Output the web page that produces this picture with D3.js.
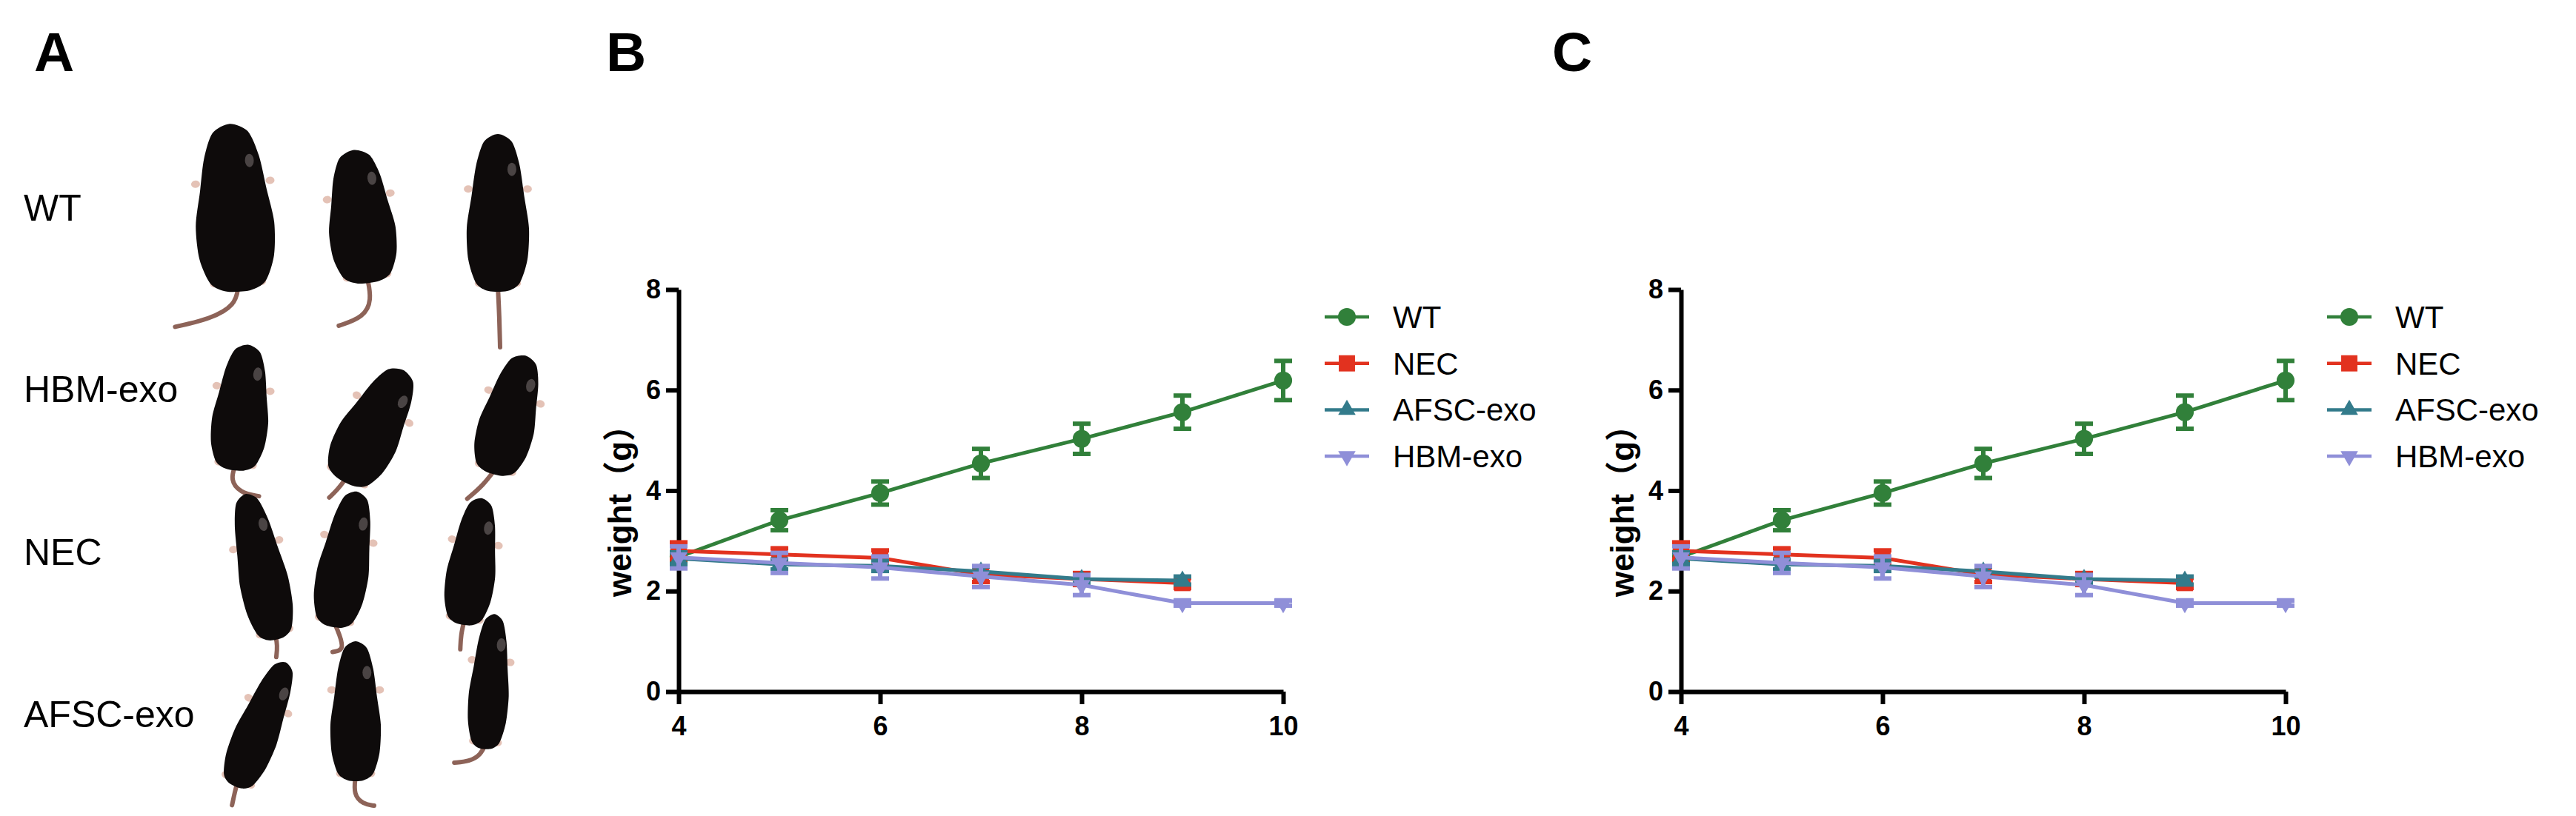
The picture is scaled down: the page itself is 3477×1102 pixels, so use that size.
<!DOCTYPE html>
<html>
<head>
<meta charset="utf-8">
<script src="https://cdn.jsdelivr.net/npm/d3@7"></script>
<style>
  html, body { margin: 0; padding: 0; background: #fff; }
  svg { display: block; }
</style>
</head>
<body>
<div id="figure"></div>
<script>
// ---- data ----
const weeks = [4, 5, 6, 7, 8, 9, 10];
const groupNames = ['WT', 'NEC', 'AFSC-exo', 'HBM-exo'];
const wtMean = [2.68, 3.41, 3.95, 4.54, 5.03, 5.56, 6.19];
const wtErr = [0.10, 0.20, 0.23, 0.29, 0.30, 0.33, 0.39];
const necMean = [2.80, 2.73, 2.66, 2.33, 2.24, 2.16];
const necErr = [0.17, 0.12, 0.15, 0.15, 0.12, 0.10];
const afscMean = [2.65, 2.53, 2.50, 2.39, 2.24, 2.21];
const afscErr = [0.12, 0.10, 0.10, 0.10, 0.08, 0.08];
const hbmMean = [2.67, 2.56, 2.47, 2.29, 2.12, 1.76, 1.76];
const hbmErr = [0.22, 0.20, 0.22, 0.21, 0.20, 0.05, 0.05];
const yTicks = [0, 2, 4, 6, 8];
const xTicks = [4, 6, 8, 10];
const photoRows = ['WT', 'HBM-exo', 'NEC', 'AFSC-exo'];

const W = 3477, H = 1102;
const FONT = '"Liberation Sans", Arial, "Noto Sans CJK SC", sans-serif';

const series = [
    { name: groupNames[0], mean: wtMean, err: wtErr, color: '#31803a', symbol: d3.symbolCircle, size: 460, rot: 0 },
    { name: groupNames[1], mean: necMean, err: necErr, color: '#e2321f', symbol: d3.symbolSquare, size: 480, rot: 0 },
    { name: groupNames[2], mean: afscMean, err: afscErr, color: '#337b8b', symbol: d3.symbolTriangle, size: 240, rot: 0 },
    { name: groupNames[3], mean: hbmMean, err: hbmErr, color: '#8f8fd8', symbol: d3.symbolTriangle, size: 240, rot: 180 }
];

const svg = d3.select('#figure')
    .append('svg')
    .attr('width', W)
    .attr('height', H)
    .style('font-family', FONT);

// ---- panel letters ----
svg.append('text').attr('x', 46).attr('y', 96).text('A')
    .style('font-size', '75px').style('font-weight', 'bold');
svg.append('text').attr('x', 818).attr('y', 96).text('B')
    .style('font-size', '75px').style('font-weight', 'bold');
svg.append('text').attr('x', 2095).attr('y', 96).text('C')
    .style('font-size', '75px').style('font-weight', 'bold');

// ---- panel A: row labels + stylised mice ----
const rowBaselines = [298, 543, 763, 982];
svg.append('g').selectAll('text')
    .data(photoRows)
    .enter()
    .append('text')
    .attr('x', 32)
    .attr('y', (d, i) => rowBaselines[i])
    .text(d => d)
    .style('font-size', '50px');

// cx, cy = body centre, len/wid = body size, rot = heading (deg), tail = local points from rump
const mice = [
    { cx: 316, cy: 280, len: 226, wid: 106, rot: -3, tail: [[0, 0], [-5, 25], [-40, 42], [-88, 50]] },
    { cx: 487, cy: 292, len: 180, wid: 90, rot: -6, tail: [[0, 0], [3, 30], [-10, 52], [-45, 60]] },
    { cx: 672, cy: 287, len: 212, wid: 84, rot: 0, tail: [[0, 0], [2, 40], [3, 82]] },
    { cx: 326, cy: 550, len: 170, wid: 76, rot: 6, tail: [[0, 0], [-5, 20], [10, 36], [36, 38]] },
    { cx: 505, cy: 575, len: 170, wid: 84, rot: 28, tail: [[0, 0], [-3, 20], [-8, 35]] },
    { cx: 688, cy: 560, len: 165, wid: 76, rot: 15, tail: [[0, 0], [-10, 25], [-26, 48]] },
    { cx: 352, cy: 765, len: 200, wid: 66, rot: -12, tail: [[0, 0], [0, 15], [-5, 30]] },
    { cx: 466, cy: 755, len: 185, wid: 70, rot: 10, tail: [[0, 0], [10, 15], [20, 35], [5, 40]] },
    { cx: 638, cy: 758, len: 172, wid: 66, rot: 8, tail: [[0, 0], [-2, 20], [0, 40]] },
    { cx: 352, cy: 978, len: 180, wid: 60, rot: 22, tail: [[0, 0], [2, 15], [5, 32]] },
    { cx: 480, cy: 960, len: 188, wid: 68, rot: 0, tail: [[0, 0], [-3, 25], [10, 38], [25, 40]] },
    { cx: 661, cy: 920, len: 182, wid: 54, rot: 4, tail: [[0, 0], [-5, 15], [-20, 25], [-40, 28]] }
];

// unit outline of a mouse seen from above, head at top
const outline = [[0, -1], [0.45, -0.9], [0.7, -0.6], [0.85, -0.2], [1, 0.2], [0.95, 0.6], [0.7, 0.9], [0.3, 1],
    [-0.3, 1], [-0.7, 0.9], [-0.95, 0.6], [-1, 0.2], [-0.85, -0.2], [-0.7, -0.6], [-0.45, -0.9]];
const bodyLine = d3.line().curve(d3.curveCardinalClosed.tension(0.2));
const tailLine = d3.line().curve(d3.curveBasis);

const mouseG = svg.append('g');
mice.forEach(m => {
    const g = mouseG.append('g')
        .attr('transform', `translate(${m.cx},${m.cy}) rotate(${m.rot})`);
    const hw = m.wid / 2, hl = m.len / 2;
    // tail
    g.append('path')
        .attr('d', tailLine(m.tail.map(p => [p[0], p[1] + hl - 6])))
        .attr('fill', 'none')
        .attr('stroke', '#8d6358')
        .attr('stroke-width', 6)
        .attr('stroke-linecap', 'round');
    // paws
    [[-0.95, -0.3], [0.95, -0.3], [-0.6, 0.9], [0.6, 0.9]].forEach(p => {
        g.append('ellipse')
            .attr('cx', p[0] * hw)
            .attr('cy', p[1] * hl)
            .attr('rx', 6).attr('ry', 5)
            .attr('fill', '#e4c2b6');
    });
    // body
    g.append('path')
        .attr('d', bodyLine(outline.map(p => [p[0] * hw, p[1] * hl])))
        .attr('fill', '#0e0b0b');
    // ear
    g.append('ellipse')
        .attr('cx', hw * 0.45).attr('cy', -hl * 0.55)
        .attr('rx', 6).attr('ry', 9)
        .attr('fill', '#4a4444');
});

// ---- panels B and C: weight curves ----
function drawPanel(dx) {
    const x = d3.scaleLinear().domain([4, 10]).range([916 + dx, 1732 + dx]);
    const y = d3.scaleLinear().domain([0, 8]).range([934, 391]);
    const g = svg.append('g');

    // axes
    const yAxis = g.append('g')
        .attr('transform', `translate(${x(4)},0)`)
        .call(d3.axisLeft(y).tickValues(yTicks).tickFormat(d3.format('d'))
            .tickSize(17).tickSizeOuter(0).tickPadding(7));
    const xAxis = g.append('g')
        .attr('transform', `translate(0,${y(0)})`)
        .call(d3.axisBottom(x).tickValues(xTicks).tickFormat(d3.format('d'))
            .tickSize(17).tickSizeOuter(0).tickPadding(16));
    [yAxis, xAxis].forEach(a => {
        a.select('.domain').attr('stroke', '#000').attr('stroke-width', 6);
        a.selectAll('.tick line').attr('stroke', '#000').attr('stroke-width', 6);
        a.selectAll('.tick text')
            .attr('fill', '#000')
            .style('font-family', FONT)
            .style('font-size', '36px')
            .style('font-weight', 'bold');
    });

    // y label
    g.append('text')
        .attr('transform', `translate(${852 + dx},679) rotate(-90)`)
        .attr('text-anchor', 'middle')
        .text('weight（g）')
        .style('font-size', '44px')
        .style('font-weight', 'bold');

    const line = d3.line().x(d => x(d.w)).y(d => y(d.m));

    series.forEach(s => {
        const pts = s.mean.map((m, i) => ({ w: weeks[i], m: m, e: s.err[i] }));
        const sg = g.append('g');
        // error bars
        const eb = sg.append('g').selectAll('g').data(pts).enter().append('g')
            .attr('stroke', s.color).attr('stroke-width', 6);
        eb.append('line')
            .attr('x1', d => x(d.w)).attr('x2', d => x(d.w))
            .attr('y1', d => y(d.m - d.e)).attr('y2', d => y(d.m + d.e));
        eb.append('line')
            .attr('x1', d => x(d.w) - 12).attr('x2', d => x(d.w) + 12)
            .attr('y1', d => y(d.m + d.e)).attr('y2', d => y(d.m + d.e));
        eb.append('line')
            .attr('x1', d => x(d.w) - 12).attr('x2', d => x(d.w) + 12)
            .attr('y1', d => y(d.m - d.e)).attr('y2', d => y(d.m - d.e));
        // connecting line
        sg.append('path')
            .attr('d', line(pts))
            .attr('fill', 'none')
            .attr('stroke', s.color)
            .attr('stroke-width', 5);
        // symbols
        sg.append('g').selectAll('path').data(pts).enter().append('path')
            .attr('d', d3.symbol().type(s.symbol).size(s.size))
            .attr('transform', d => `translate(${x(d.w)},${y(d.m)}) rotate(${s.rot})`)
            .attr('fill', s.color);
    });

    // legend
    const lg = g.append('g').attr('transform', `translate(${1788 + dx},428)`);
    const item = lg.selectAll('g').data(series).enter().append('g')
        .attr('transform', (d, i) => `translate(0,${i * 62.7})`);
    item.append('line')
        .attr('x1', 0).attr('x2', 60)
        .attr('stroke', d => d.color)
        .attr('stroke-width', 4.5);
    item.append('path')
        .attr('d', d => d3.symbol().type(d.symbol).size(d.size)())
        .attr('transform', d => `translate(30,0) rotate(${d.rot})`)
        .attr('fill', d => d.color);
    item.append('text')
        .attr('x', 92)
        .attr('y', 15)
        .text(d => d.name)
        .style('font-size', '42px');
}

drawPanel(0);
drawPanel(1353);
</script>
</body>
</html>
